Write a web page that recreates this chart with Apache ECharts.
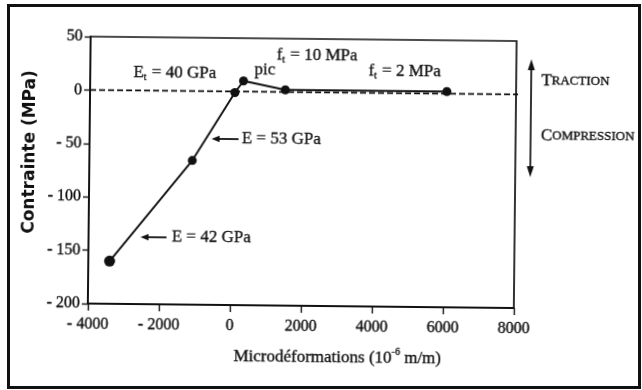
<!DOCTYPE html>
<html>
<head>
<meta charset="utf-8">
<script src="https://cdn.jsdelivr.net/npm/echarts@6.0.0/dist/echarts.min.js"></script>
<style>
  html, body { margin: 0; padding: 0; background: #fff; }
  #wrap { position: relative; width: 642px; height: 390px; overflow: hidden; background: #fff; }
  #chart { position: absolute; left: 0; top: 0; width: 642px; height: 390px; transform: rotate(0.6deg); transform-origin: 50% 50%; }
  #frame { position: absolute; left: 7px; top: 4px; width: 628px; height: 379px; border: 3px solid #111; pointer-events: none; }
</style>
</head>
<body>
<div id="wrap">
  <div id="chart"></div>
  <div id="frame"></div>
</div>
<script>
// Stress–strain curve of concrete: compression branch, tensile peak and residual plateau
const strain = [-3400, -1100, 80, 320, 1500, 6050];   // microstrain (10^-6 m/m)
const stress = [-160, -65, -1, 10, 2, 2];             // MPa

// Dashed zero-stress reference line
const zeroStrain = [-4000, 8700];
const zeroStress = [0, 0];

// Axis ranges and tick steps
const xRange = [-4000, 8000];
const xStep = 2000;
const yRange = [-200, 50];
const yStep = 50;

const serif = 'Liberation Serif';
const ink = '#111111';
// slight stroke around glyphs: axis labels use label options, graphic texts use zrender style
const labelThick = { textBorderColor: ink, textBorderWidth: 0.35 };
const gThick = { stroke: ink, lineWidth: 0.35 };

function signedLabel(v) {
  return v < 0 ? '- ' + Math.abs(v) : String(v);
}

const chart = echarts.init(document.getElementById('chart'), null, { renderer: 'canvas' });

const subRich = {
  m: Object.assign({ fontFamily: serif, fontSize: 17, fill: ink, verticalAlign: 'middle', lineHeight: 20 }, gThick),
  s: Object.assign({ fontFamily: serif, fontSize: 10, fill: ink, verticalAlign: 'bottom', lineHeight: 20, padding: [0, 1, 0, 0] }, gThick)
};

function note(text, x, y, rich) {
  return {
    type: 'text', left: x, top: y, z: 10,
    style: { text: text, rich: rich || subRich, verticalAlign: 'middle', fill: ink }
  };
}

function leftArrow(x1, x2, y) {
  return [
    { type: 'line', z: 10, shape: { x1: x1 + 6, y1: y, x2: x2, y2: y }, style: { stroke: ink, lineWidth: 1.8 } },
    { type: 'polygon', z: 10, shape: { points: [[x1, y], [x1 + 8, y - 3.2], [x1 + 8, y + 3.2]] }, style: { fill: ink } }
  ];
}

const capsRich = {
  b: Object.assign({ fontFamily: serif, fontSize: 17, fill: ink }, gThick),
  c: Object.assign({ fontFamily: serif, fontSize: 13, fill: ink }, gThick)
};

const option = {
  animation: false,
  backgroundColor: 'transparent',
  grid: { left: 89, top: 39, width: 426, height: 267, show: true, borderColor: ink, borderWidth: 1.7, backgroundColor: 'transparent' },
  xAxis: {
    type: 'value', min: xRange[0], max: xRange[1], interval: xStep,
    axisLine: { show: true, onZero: false, lineStyle: { color: ink, width: 1.8 } },
    axisTick: { show: true, inside: false, length: 7, lineStyle: { color: ink, width: 1.4 } },
    axisLabel: Object.assign({ formatter: signedLabel, fontFamily: serif, fontSize: 16, color: ink, margin: 13 }, labelThick),
    splitLine: { show: false }
  },
  yAxis: {
    type: 'value', min: yRange[0], max: yRange[1], interval: yStep,
    axisLine: { show: true, onZero: false, lineStyle: { color: ink, width: 1.8 } },
    axisTick: { show: true, inside: false, length: 6, lineStyle: { color: ink, width: 1.4 } },
    axisLabel: Object.assign({ formatter: signedLabel, fontFamily: serif, fontSize: 16, color: ink, margin: 8 }, labelThick),
    splitLine: { show: false }
  },
  series: [
    {
      name: 'zero',
      type: 'line',
      data: zeroStrain.map((x, i) => [x, zeroStress[i]]),
      clip: false,
      showSymbol: false,
      lineStyle: { color: ink, width: 1.8, type: [6, 3] },
      z: 2
    },
    {
      name: 'courbe',
      type: 'line',
      data: strain.map((x, i) => [x, stress[i]]),
      symbol: 'circle',
      symbolSize: (v, p) => (p.dataIndex === 0 ? 11 : 9),
      itemStyle: { color: ink },
      lineStyle: { color: ink, width: 1.9 },
      z: 3
    }
  ],
  graphic: [
    // y-axis title
    {
      type: 'text', z: 10, x: 30, y: 155, rotation: Math.PI / 2,
      style: { text: 'Contrainte (MPa)', font: 'bold 17px "DejaVu Sans"', fill: ink, align: 'center', verticalAlign: 'middle' }
    },
    // x-axis title with superscript exponent
    {
      type: 'text', z: 10, left: 235, top: 346,
      style: {
        text: '{m|Microdéformations (10}{p|-6}{m| m/m)}',
        rich: {
          m: Object.assign({ fontFamily: serif, fontSize: 17, fill: ink, verticalAlign: 'middle', lineHeight: 22 }, gThick),
          p: Object.assign({ fontFamily: serif, fontSize: 10, fill: ink, verticalAlign: 'top', lineHeight: 22 }, gThick)
        }
      }
    },
    note('{m|E}{s|t}{m| = 40 GPa}', 132, 66),
    note('{m|pic}', 253, 62),
    note('{m|f}{s|t}{m| = 10 MPa}', 275, 47),
    note('{m|f}{s|t}{m| = 2 MPa}', 367, 62),
    ...leftArrow(211, 238, 140),
    note('{m|E = 53 GPa}', 241, 131),
    ...leftArrow(141, 167, 239),
    note('{m|E = 42 GPa}', 172, 230),
    // traction / compression indicator
    { type: 'line', z: 10, shape: { x1: 530, y1: 64, x2: 530, y2: 168 }, style: { stroke: ink, lineWidth: 1.7 } },
    { type: 'polygon', z: 10, shape: { points: [[530, 57], [526.5, 68], [533.5, 68]] }, style: { fill: ink } },
    { type: 'polygon', z: 10, shape: { points: [[530, 175], [526.5, 164], [533.5, 164]] }, style: { fill: ink } },
    { type: 'text', z: 10, left: 540, top: 70, style: { text: '{b|T}{c|RACTION}', rich: capsRich } },
    { type: 'text', z: 10, left: 540, top: 125, style: { text: '{b|C}{c|OMPRESSION}', rich: capsRich } }
  ]
};

chart.setOption(option);
</script>
</body>
</html>
